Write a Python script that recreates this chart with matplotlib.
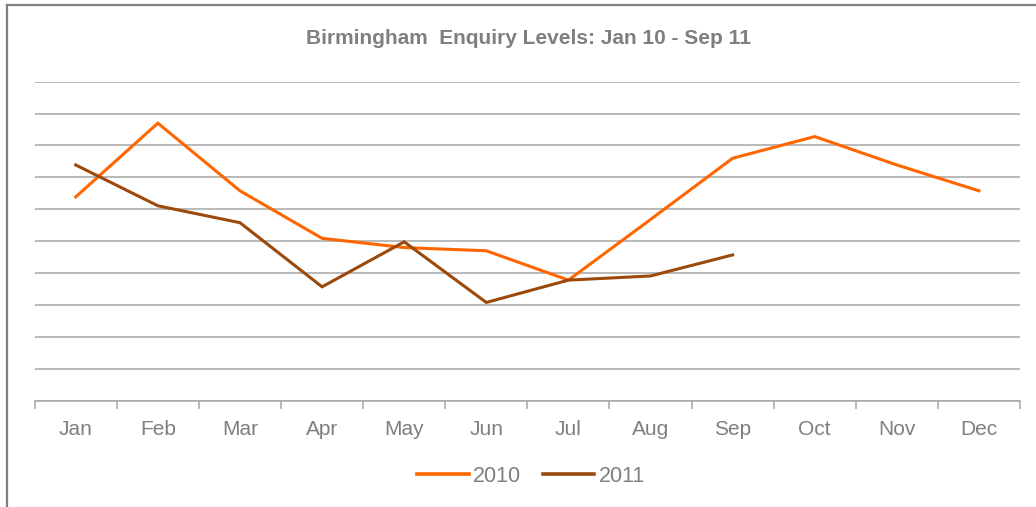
import matplotlib
matplotlib.use("Agg")
import matplotlib.pyplot as plt
from matplotlib.lines import Line2D

months = ["Jan", "Feb", "Mar", "Apr", "May", "Jun", "Jul", "Aug", "Sep", "Oct", "Nov", "Dec"]
values_2010 = [6.39, 8.70, 6.58, 5.09, 4.80, 4.70, 3.78, 5.68, 7.60, 8.28, 7.39, 6.58]
values_2011 = [7.39, 6.11, 5.58, 3.57, 4.98, 3.08, 3.78, 3.91, 4.57]
series_names = ["2010", "2011"]
colors = ["#FF6600", "#9C4A0C"]

plt.rcParams['font.family'] = ['Liberation Sans', 'DejaVu Sans']

W, H = 1036, 507
fig = plt.figure(figsize=(W / 100, H / 100), dpi=100)
left, right = 34.7 / W, 1020 / W
top, bottom = 1 - 81.7 / H, 1 - 400.7 / H
ax = fig.add_axes([left, bottom, right - left, top - bottom])

x10 = list(range(len(values_2010)))
x11 = list(range(len(values_2011)))
ax.plot(x10, values_2010, color=colors[0], lw=2.2, label=series_names[0], solid_joinstyle='miter')
ax.plot(x11, values_2011, color=colors[1], lw=2.2, label=series_names[1], solid_joinstyle='miter')

ax.set_xlim(-0.5, len(months) - 0.5)
ax.set_ylim(0, 10)
ax.set_yticks(range(0, 11))
ax.yaxis.grid(True, color="#A6A6A6", lw=1.1)
ax.set_axisbelow(True)
ax.tick_params(axis='y', left=False, labelleft=False)

ax.set_xticks(range(len(months)))
ax.set_xticklabels(months, color="#7F7F7F", fontsize=15)
ax.set_xticks([i - 0.5 for i in range(len(months) + 1)], minor=True)
ax.tick_params(axis='x', which='major', length=0, pad=14)
ax.tick_params(axis='x', which='minor', length=6, color="#A6A6A6", width=1.1)

for s in ['top', 'right', 'left']:
    ax.spines[s].set_visible(False)
ax.spines['bottom'].set_color("#A6A6A6")
ax.spines['bottom'].set_linewidth(1.1)

fig.text(528 / W, 1 - 39 / H, "Birmingham  Enquiry Levels: Jan 10 - Sep 11",
         ha='center', va='center', fontsize=15, fontweight='bold', color="#7F7F7F")

leg = fig.legend(loc='center', bbox_to_anchor=(531 / W, 1 - 476 / H), ncol=2, frameon=False,
                 fontsize=15.5, handlelength=2.4, handletextpad=0.2, columnspacing=1.0,
                 labelcolor="#7F7F7F")
for l in leg.get_lines():
    l.set_linewidth(2.6)

# frame border (top and left visible)
fig.add_artist(Line2D([7 / W, 7 / W], [0, 1 - 4.7 / H], transform=fig.transFigure, color="#808080", lw=1.6))
fig.add_artist(Line2D([7 / W, 1], [1 - 4.7 / H, 1 - 4.7 / H], transform=fig.transFigure, color="#808080", lw=1.6))

fig.savefig("out.png", dpi=100)
